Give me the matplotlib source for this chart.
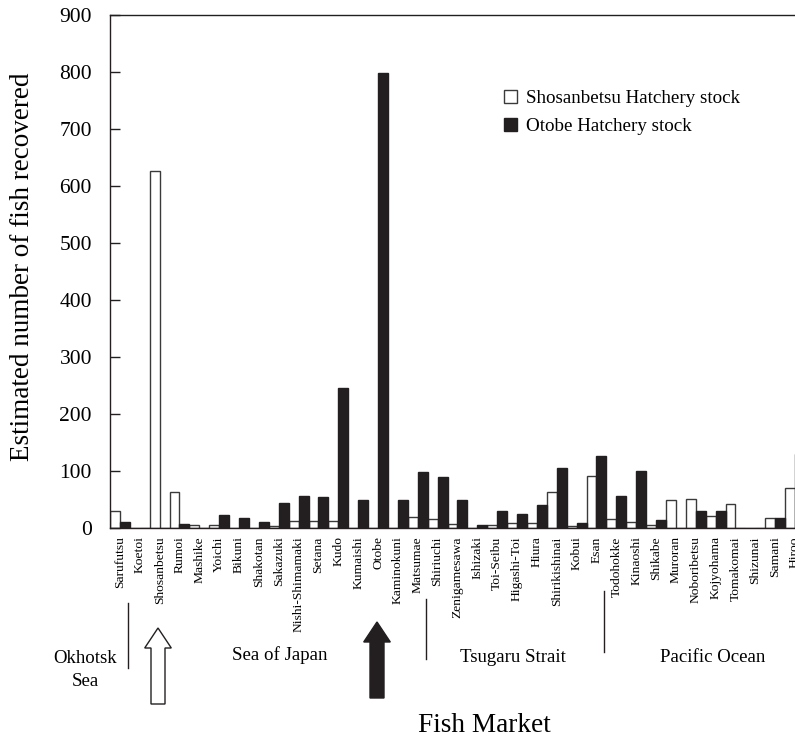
import matplotlib
matplotlib.use("Agg")
from matplotlib import pyplot as plt
from matplotlib.patches import Polygon
import numpy as np

plt.rcParams['font.family'] = ['Liberation Serif', 'DejaVu Serif']

markets = ["Sarufutsu", "Koetoi", "Shosanbetsu", "Rumoi", "Mashike", "Yoichi",
           "Bikuni", "Shakotan", "Sakazuki", "Nishi-Shimamaki", "Setana", "Kudo",
           "Kumaishi", "Otobe", "Kaminokuni", "Matsumae", "Shiriuchi",
           "Zenigamesawa", "Ishizaki", "Toi-Seibu", "Higashi-Toi", "Hiura",
           "Shirikishinai", "Kobui", "Esan", "Todohokke", "Kinaoshi", "Shikabe",
           "Muroran", "Noboribetsu", "Kojyohama", "Tomakomai", "Shizunai",
           "Samani", "Hiroo"]
shosanbetsu_stock = [30, 0, 626, 64, 5, 6, 0, 0, 3.5, 13, 12, 12, 0, 0, 0, 20,
                     16, 7.5, 0, 6, 8, 8, 64, 3.5, 91, 16, 10.5, 4.5, 49, 51,
                     21, 42, 0, 17.5, 70]
otobe_stock = [10, 0, 0, 7.5, 0, 22, 18, 10, 44, 56, 54, 246, 50, 798, 50, 98,
               89, 50, 5, 30, 25, 41, 106, 8, 127, 56, 100, 14, 0, 30, 30, 0,
               0, 17.5, 130]
regions = ["Okhotsk\nSea", "Sea of Japan", "Tsugaru Strait", "Pacific Ocean"]

W, H = 795, 740
fig = plt.figure(figsize=(W / 100, H / 100), dpi=100)
ax = fig.add_axes([110 / W, 1 - 528 / H, 1 - 110 / W, (528 - 15) / H])

dark = '#231f20'
x = np.arange(len(markets))
ax.bar(x + 0.25, shosanbetsu_stock, width=0.5, color='white', edgecolor='#3a3a3a',
       linewidth=1.0, label='Shosanbetsu Hatchery stock')
ax.bar(x + 0.75, otobe_stock, width=0.5, color=dark, edgecolor=dark,
       linewidth=1.0, label='Otobe Hatchery stock')

ax.set_xlim(0, 34.5)
ax.set_ylim(0, 900)
ax.set_yticks(range(0, 901, 100))
ax.set_xticks(x + 0.5)
ax.set_xticklabels(markets, rotation=90, fontsize=9.7)
ax.tick_params(axis='x', length=0, pad=6)
ax.tick_params(axis='y', direction='in', length=7, width=1, pad=13,
               labelsize=15.5, color=dark)
ax.spines['right'].set_visible(False)
for s in ['left', 'top', 'bottom']:
    ax.spines[s].set_color(dark)
    ax.spines[s].set_linewidth(1.0)

ax.legend(loc='upper left', bbox_to_anchor=(487 / W, 1 - 73 / H),
          bbox_transform=fig.transFigure, frameon=False, fontsize=13.7,
          handlelength=0.7, handleheight=0.7, handletextpad=0.45,
          labelspacing=0.55)

fig.text(23 / W, 1 - 267 / H, "Estimated number of fish recovered",
         rotation=90, ha='center', va='center', fontsize=19.5)
fig.text(484 / W, 1 - 725 / H, "Fish Market", ha='center', va='center',
         fontsize=19.6)

# region names below the market labels
region_pos = [(85, 670), (280, 655), (513, 657), (713, 657)]
for name, (px, py) in zip(regions, region_pos):
    fig.text(px / W, 1 - py / H, name, ha='center', va='center',
             fontsize=13.6, linespacing=1.4)

# divider lines between regions
for px, y0, y1 in [(128, 603, 668), (426, 599, 659), (604, 591, 652)]:
    fig.add_artist(plt.Line2D([px / W, px / W], [1 - y0 / H, 1 - y1 / H],
                              color=dark, linewidth=1.0,
                              transform=fig.transFigure))

# hatchery arrows (white = Shosanbetsu, black = Otobe)
def arrow(cx, tip, base, bottom, fc):
    pts = [(cx, tip), (cx + 13.3, base), (cx + 7, base), (cx + 7, bottom),
           (cx - 7, bottom), (cx - 7, base), (cx - 13.3, base)]
    pts = [(px / W, 1 - py / H) for px, py in pts]
    fig.add_artist(Polygon(pts, closed=True, facecolor=fc, edgecolor=dark,
                           linewidth=1.0, transform=fig.transFigure))

arrow(158, 628, 648, 704, 'white')
arrow(377, 622, 642, 698, dark)

fig.savefig("out.png", dpi=100)
